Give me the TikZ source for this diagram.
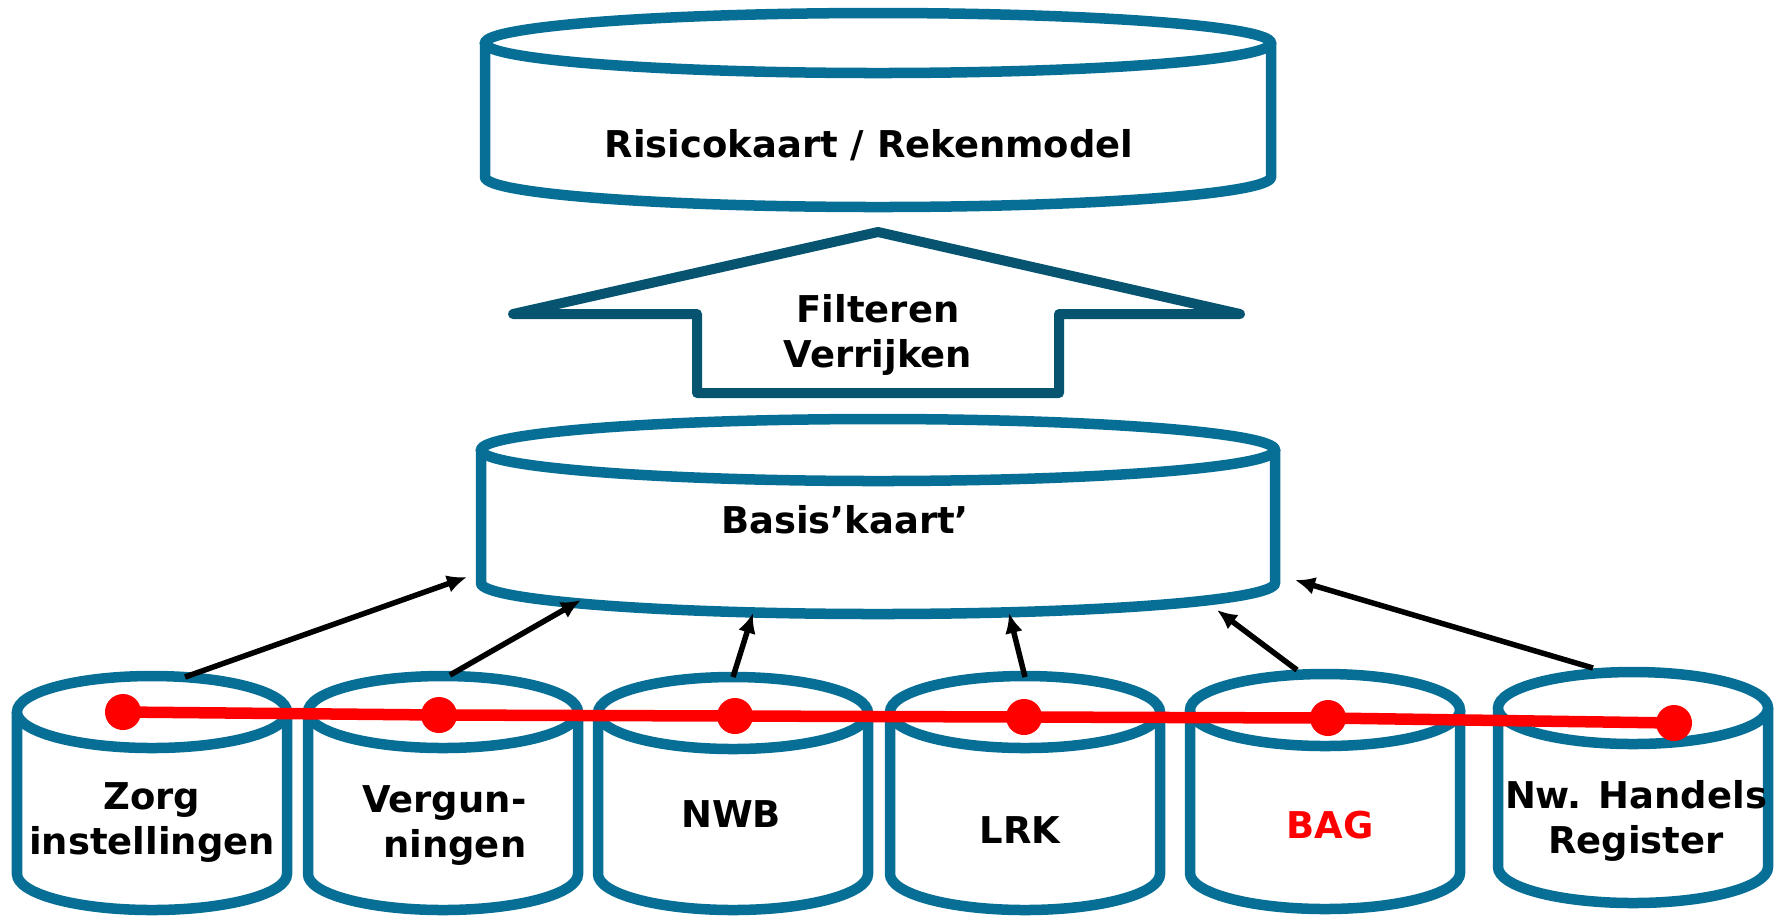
\documentclass[tikz,border=0pt]{standalone}
\usepackage{fontspec}
\setmainfont{DejaVu Sans}
\usetikzlibrary{arrows.meta}
\definecolor{dbteal}{RGB}{7,111,150}
\definecolor{flowteal}{RGB}{6,84,111}
\definecolor{linkred}{RGB}{255,0,0}
\tikzset{
	db/.style={draw=dbteal,line width=0.105cm,fill=white},
	flow/.style={draw=flowteal,line width=0.1cm,line join=round,fill=white},
	dbtext/.style={font=\fontsize{10.5}{12.8}\selectfont\bfseries,align=center,inner sep=0pt,anchor=base},
	feed/.style={line width=0.055cm,-{Latex[length=0.2cm,width=0.18cm]}},
	link/.style={draw=linkred,line width=0.115cm},
	hit/.style={circle,fill=linkred,inner sep=0pt,minimum size=0.36cm}
}
\begin{document}
\begin{tikzpicture}[x=0.01cm,y=-0.01cm]
	\useasboundingbox (0,0) rectangle (1776,917);
	% top store
	\draw[db] (485,43) -- (485,177) arc[start angle=180,end angle=0,x radius=393,y radius=30] -- (1271,43);
	\draw[db] (878,43) ellipse[x radius=393,y radius=30];
	\node[dbtext] (risico) at (869,157) {Risicokaart / Rekenmodel};
	% big arrow
	\draw[flow] (878,232) -- (513,314) -- (697,314) -- (697,393) -- (1059,393) -- (1059,314) -- (1240,314) -- cycle;
	\node[dbtext] (filter) at (878,367) {Filteren\\Verrijken};
	% base map
	\draw[db] (481,450) -- (481,583) arc[start angle=180,end angle=0,x radius=397,y radius=31] -- (1275,450);
	\draw[db] (878,450) ellipse[x radius=397,y radius=31];
	\node[dbtext] (basis) at (845,533) {Basis’kaart’};
	% sources
	\foreach \nm/\cx/\ty/\by in {zorg/152/712/874,vergun/443/712/874,nwb/733/713/874,lrk/1025/712/874,bag/1325/710/873,nhr/1633/708/867}
	{
		\draw[db] (\cx-135,\ty) -- (\cx-135,\by) arc[start angle=180,end angle=0,x radius=135,y radius=36] -- (\cx+135,\ty);
		\draw[db] (\cx,\ty) ellipse[x radius=135,y radius=36];
		\coordinate (\nm) at (\cx,\ty);
	}
	\node[dbtext] (zorgtxt) at (152,854) {Zorg\\instellingen};
	\node[dbtext,anchor=base east,align=right] (verguntxt) at (527,857) {Vergun-\\ningen};
	\node[dbtext] (nwbtxt) at (731,827) {NWB};
	\node[dbtext] (lrktxt) at (1020,843) {LRK};
	\node[dbtext,text=linkred] (bagtxt) at (1330,838) {BAG};
	\node[dbtext] (nhrtxt) at (1636,853) {Nw. Handels\\Register};
	% feeds into the base map
	\coordinate (in1) at (467,577);
	\coordinate (in2) at (581,600);
	\coordinate (in3) at (753,613);
	\coordinate (in4) at (1009,613);
	\coordinate (in5) at (1217,610);
	\coordinate (in6) at (1295,580);
	\draw[feed] ([shift={(33,-35)}]zorg) -- (in1);
	\draw[feed] ([shift={(7,-37)}]vergun) -- (in2);
	\draw[feed] ([shift={(0,-36)}]nwb) -- (in3);
	\draw[feed] ([shift={(0,-35)}]lrk) -- (in4);
	\draw[feed] ([shift={(-28,-40)}]bag) -- (in5);
	\draw[feed] ([shift={(-40,-40)}]nhr) -- (in6);
	% red link
	\foreach \i/\x/\y in {1/123/712,2/439/715,3/735/716,4/1024/717,5/1328/718,6/1674/723}
		\node[hit] (p\i) at (\x,\y) {};
	\draw[link] (p1.center) -- (p2.center) -- (p3.center) -- (p4.center) -- (p5.center) -- (p6.center);
\end{tikzpicture}
\end{document}
